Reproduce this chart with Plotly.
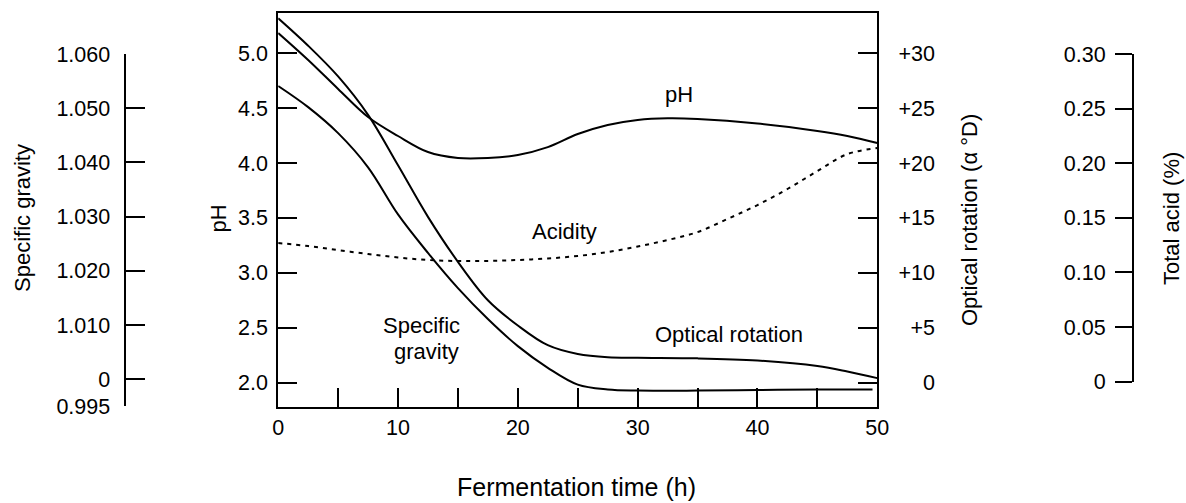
import plotly.graph_objects as go

W, H = 1186, 503
FONT = "Liberation Sans, Arial, Helvetica, sans-serif"

# ---------------- data ----------------
ph_time = [0, 2.5, 5, 7.5, 10, 12.5, 15, 17.5, 20, 22.5, 25, 27.5, 30, 32.5, 35, 40, 45, 47.5, 50]
ph_values = [5.186, 4.940, 4.676, 4.420, 4.247, 4.101, 4.047, 4.047, 4.074, 4.146,
             4.265, 4.347, 4.393, 4.408, 4.402, 4.361, 4.293, 4.247, 4.183]

sg_time = [0, 2.5, 5, 7.5, 10, 12.5, 15, 17.5, 20, 22.5, 25, 27.5, 30, 35, 40, 45, 49.6]
sg_values = [1.0541, 1.0502, 1.0454, 1.0391, 1.0304, 1.0233, 1.0168, 1.0111, 1.0061,
             1.0021, 0.9990, 0.9981, 0.9979, 0.9979, 0.9980, 0.9981, 0.9981]

or_time = [0, 2.5, 5, 7.5, 10, 12.5, 15, 17.5, 20, 22.5, 25, 27.5, 30, 35, 40, 45, 47.5, 50]
or_values = [33.2, 30.7, 27.9, 24.4, 19.8, 15.1, 11.0, 7.5, 5.2, 3.4, 2.6, 2.3, 2.25,
             2.2, 2.0, 1.5, 1.0, 0.4]

acid_time = [0, 2.5, 5, 7.5, 10, 12.5, 15, 17.5, 20, 22.5, 25, 27.5, 30, 32.5, 35,
             37.5, 40, 42.5, 45, 47.5, 50]
acid_values = [0.1270, 0.1242, 0.1205, 0.1169, 0.1137, 0.1114, 0.1105, 0.1105, 0.1114,
               0.1128, 0.1151, 0.1187, 0.1238, 0.1297, 0.1370, 0.1490, 0.1618, 0.1765,
               0.1929, 0.2085, 0.2140]

x_tickvals = [0, 5, 10, 15, 20, 25, 30, 35, 40, 45, 50]
x_ticktext = ["0", "", "10", "", "20", "", "30", "", "40", "", "50"]
ph_tickvals = [2.0, 2.5, 3.0, 3.5, 4.0, 4.5, 5.0]
ph_ticktext = ["2.0", "2.5", "3.0", "3.5", "4.0", "4.5", "5.0"]
sg_tickvals = [0.995, 1.000, 1.010, 1.020, 1.030, 1.040, 1.050, 1.060]
sg_ticktext = ["0.995", "0", "1.010", "1.020", "1.030", "1.040", "1.050", "1.060"]
or_tickvals = [0, 5, 10, 15, 20, 25, 30]
or_ticktext = ["0", "+5", "+10", "+15", "+20", "+25", "+30"]
acid_tickvals = [0, 0.05, 0.10, 0.15, 0.20, 0.25, 0.30]
acid_ticktext = ["0", "0.05", "0.10", "0.15", "0.20", "0.25", "0.30"]


def px_x(px):
    return px / W


def px_y(py):
    return (H - py) / H


# ---------------- figure ----------------
line_style = dict(color="black", width=2, shape="spline", smoothing=1.0)

fig = go.Figure()
fig.add_trace(go.Scatter(x=ph_time, y=ph_values, mode="lines", line=line_style,
                         name="pH", xaxis="x", yaxis="y", hoverinfo="skip"))
fig.add_trace(go.Scatter(x=sg_time, y=sg_values, mode="lines", line=line_style,
                         name="Specific gravity", xaxis="x", yaxis="y2", hoverinfo="skip"))
fig.add_trace(go.Scatter(x=or_time, y=or_values, mode="lines", line=line_style,
                         name="Optical rotation", xaxis="x", yaxis="y3", hoverinfo="skip"))
fig.add_trace(go.Scatter(x=acid_time, y=acid_values, mode="lines",
                         line=dict(color="black", width=2, shape="spline", smoothing=1.0,
                                   dash="4px,5px"),
                         name="Acidity", xaxis="x", yaxis="y4", hoverinfo="skip"))

tickfont = dict(family=FONT, size=21.5, color="black")

ph_lo, ph_hi = 1.7794, 5.371

fig.update_layout(
    width=W, height=H, autosize=False,
    margin=dict(l=0, r=0, t=0, b=0, pad=0, autoexpand=False),
    paper_bgcolor="white", plot_bgcolor="rgba(0,0,0,0)",
    showlegend=False,
    font=dict(family=FONT, size=22, color="black"),
    xaxis=dict(
        domain=[px_x(278.2), px_x(877.3)], range=[0, 50], anchor="y",
        tickmode="array", tickvals=x_tickvals, ticktext=x_ticktext,
        ticks="inside", ticklen=19, tickwidth=2, tickcolor="black",
        showline=True, linewidth=2, linecolor="black", mirror=True,
        showgrid=False, zeroline=False, tickfont=tickfont, ticklabelstandoff=0,
        automargin=False,
    ),
    yaxis=dict(
        domain=[px_y(406.7), px_y(12.7)], range=[ph_lo, ph_hi], anchor="x",
        tickmode="array", tickvals=ph_tickvals, ticktext=ph_ticktext,
        ticks="inside", ticklen=19, tickwidth=2, tickcolor="black",
        showline=True, linewidth=2, linecolor="black", mirror="ticks",
        showgrid=False, zeroline=False, tickfont=tickfont, ticklabelstandoff=4,
        automargin=False,
    ),
    yaxis2=dict(
        domain=[px_y(406.3), px_y(54.0)], range=[0.995, 1.060],
        anchor="free", position=px_x(124.5), side="left",
        tickmode="array", tickvals=sg_tickvals, ticktext=sg_ticktext,
        ticks="inside", ticklen=19, tickwidth=2, tickcolor="black",
        showline=True, linewidth=2, linecolor="black",
        showgrid=False, zeroline=False, tickfont=tickfont, ticklabelstandoff=9,
        automargin=False,
    ),
    yaxis3=dict(
        overlaying="y", range=[(ph_lo - 2) * 10, (ph_hi - 2) * 10],
        anchor="free", position=px_x(935), side="left",
        tickmode="array", tickvals=or_tickvals, ticktext=or_ticktext,
        ticks="", showline=False, showgrid=False, zeroline=False, tickfont=tickfont,
        automargin=False,
    ),
    yaxis4=dict(
        domain=[px_y(381.5), px_y(54.3)], range=[0, 0.30],
        anchor="free", position=px_x(1133), side="left",
        tickmode="array", tickvals=acid_tickvals, ticktext=acid_ticktext,
        ticks="outside", ticklen=17, tickwidth=2, tickcolor="black",
        showline=True, linewidth=2, linecolor="black",
        showgrid=False, zeroline=False, tickfont=tickfont, ticklabelstandoff=5,
        automargin=False,
    ),
)

annos = [
    # axis titles
    dict(text="Specific gravity", x=px_x(22), y=px_y(218), textangle=-90),
    dict(text="pH", x=px_x(218), y=px_y(218.5), textangle=-90),
    dict(text="Optical rotation (α °D)", x=px_x(969), y=px_y(220), textangle=-90),
    dict(text="Total acid (%)", x=px_x(1171.5), y=px_y(218.5), textangle=-90),
    dict(text="Fermentation time (h)", x=px_x(576.5), y=px_y(487), size=25),
    # curve labels
    dict(text="pH", x=px_x(678.5), y=px_y(95)),
    dict(text="Acidity", x=px_x(564), y=px_y(231.5)),
    dict(text="Specific", x=px_x(421), y=px_y(325.3)),
    dict(text="gravity", x=px_x(426), y=px_y(351.2)),
    dict(text="Optical rotation", x=px_x(729), y=px_y(334)),
]
for a in annos:
    size = a.pop("size", 22)
    a.update(xref="paper", yref="paper", xanchor="center", yanchor="middle",
             showarrow=False, font=dict(family=FONT, size=size, color="black"))
fig.update_layout(annotations=annos)

fig.write_html(
    "out.html",
    config={"displayModeBar": False, "responsive": False},
    post_script="document.body.style.margin='0';document.body.style.overflow='hidden';",
)
